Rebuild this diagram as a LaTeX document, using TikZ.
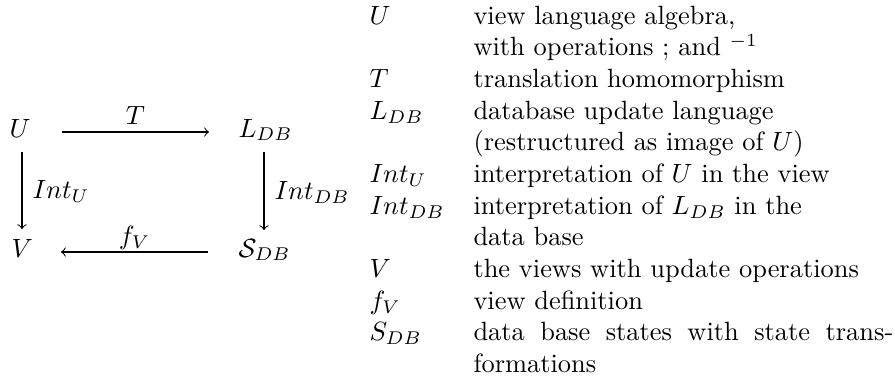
\documentclass[tikz,border=0pt]{standalone}
\usetikzlibrary{calc}
% fixed-width slot for the symbols of the legend
\newcommand\legsym[1]{\makebox[39.4pt][l]{$#1$}}
\begin{document}
\begin{tikzpicture}[x=0.37879pt,y=-0.37879pt,
  obj/.style={inner sep=0pt, anchor=base west},
  map/.style={->},
  lbl/.style={inner sep=0pt}]
\useasboundingbox (0,0) rectangle (895,381);

% the commuting square
\node[obj] (U) at (9,137)   {$U$};
\node[obj] (L) at (238,137) {$L_{DB}$};
\node[obj] (V) at (11,257)  {$V$};
\node[obj] (S) at (238,257) {$\mathcal{S}_{DB}$};

\draw[map] ($(U.base west)+(53,-5)$)
  -- node[lbl, anchor=base, yshift=2.9pt] (tl) {$T$}
  ($(L.base west)+(-29,-5)$);
\draw[map] ($(S.base west)+(-30,-5)$)
  -- node[lbl, anchor=base, yshift=2.7pt] (fl) {$f_V$}
  ($(V.base west)+(50,-5)$);
\draw[map] ($(U.base west)+(13,15)$)
  -- node[lbl, anchor=base west, xshift=3.8pt, yshift=-3.2pt] (iu) {$Int_U$}
  ($(V.base west)+(11,-28)$);
\draw[map] ($(L.base west)+(26,15)$)
  -- node[lbl, anchor=base west, xshift=3.8pt, yshift=-3.2pt] (idb) {$Int_{DB}$}
  ($(S.base west)+(26,-27)$);

% legend
\node[obj] (legend) at (369,24) {%
\begin{tabular}[t]{@{}l@{}l@{}}
\legsym{U}      & view language algebra,\\
\legsym{}       & with operations $;$ and ${}^{-1}$\\
\legsym{T}      & translation homomorphism\\
\legsym{L_{DB}} & database update language\\
\legsym{}       & (restructured as image of $U$)\\
\legsym{Int_U}  & interpretation of $U$ in the view\\
\legsym{Int_{DB}} & interpretation of $L_{DB}$ in the\\
\legsym{}       & data base\\
\legsym{V}      & the views with update operations\\
\legsym{f_V}    & view definition\\
\legsym{S_{DB}} & \makebox[159pt][s]{data base states with state trans-}\\
\legsym{}       & formations
\end{tabular}};
\end{tikzpicture}
\end{document}
